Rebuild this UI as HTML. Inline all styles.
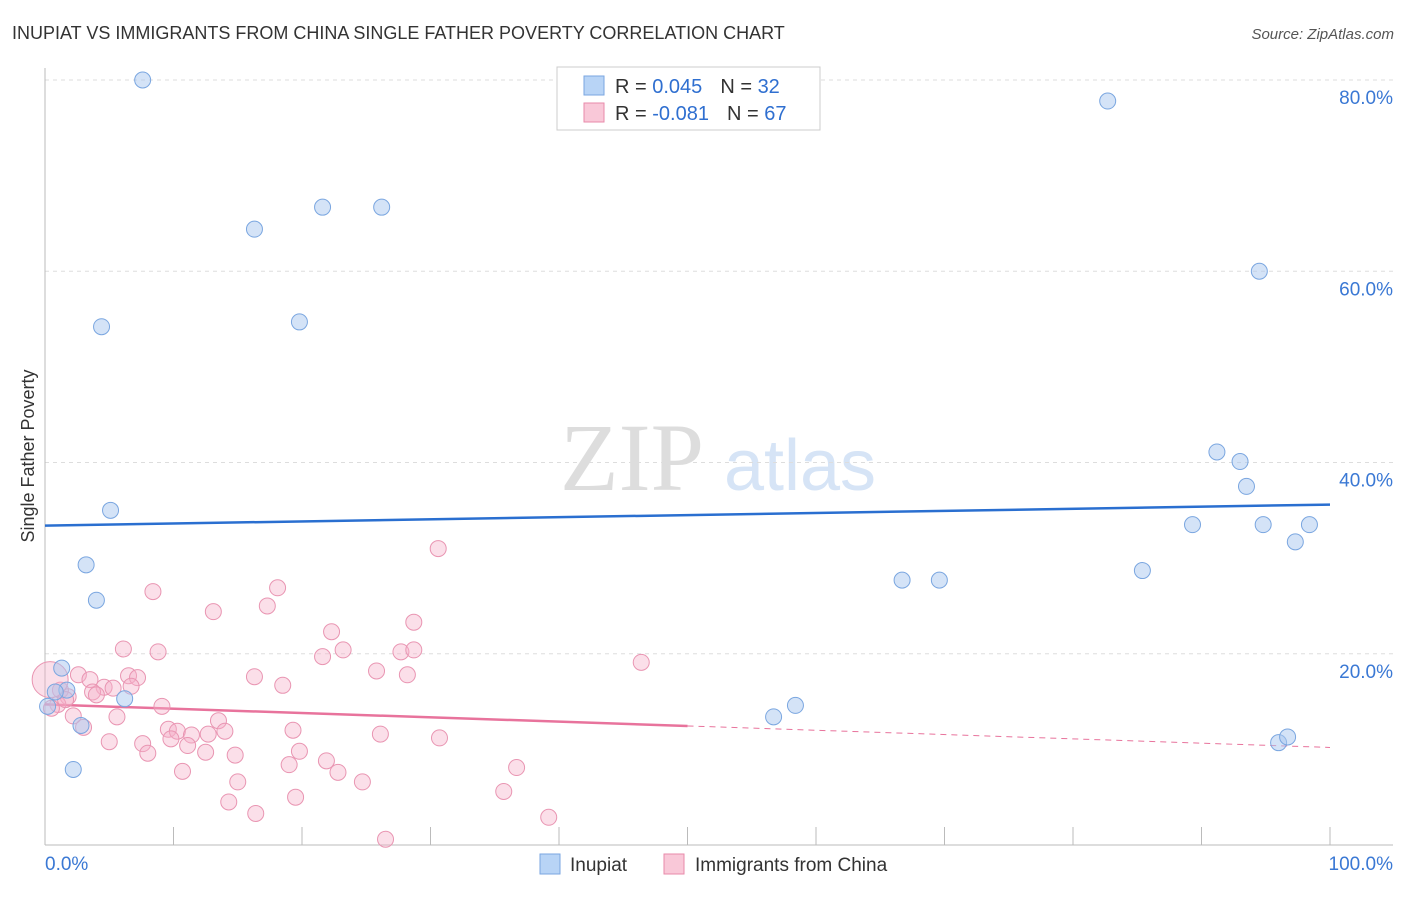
<!DOCTYPE html>
<html><head><meta charset="utf-8"><style>
body{margin:0;background:#fff;font-family:"Liberation Sans",sans-serif}
svg text{font-family:"Liberation Sans",sans-serif}
</style></head><body>
<svg id="chart" width="1406" height="892">
<text x="12" y="39" font-size="18" fill="#333">INUPIAT VS IMMIGRANTS FROM CHINA SINGLE FATHER POVERTY CORRELATION CHART</text>
<text x="1394" y="39" font-size="15" fill="#555" font-style="italic" text-anchor="end">Source: ZipAtlas.com</text>
<text x="34" y="456" font-size="18" fill="#333" text-anchor="middle" transform="rotate(-90 34 456)">Single Father Poverty</text>
<text x="632" y="490" font-size="96" fill="#ddd" font-family="Liberation Serif" text-anchor="middle" style="font-family:'Liberation Serif',serif">ZIP</text>
<text x="800" y="490" font-size="72" fill="#d6e4f6" text-anchor="middle">atlas</text>
<g id="grid"></g><g id="axes"></g><g id="trends"></g><g id="pts"></g>
<g>
<rect x="557" y="67" width="263" height="63" fill="#fff" stroke="#ccc"/>
<rect x="584" y="76" width="20" height="19" fill="#b8d4f6" stroke="#7aa6e0"/>
<rect x="584" y="103" width="20" height="19" fill="#f9c8d8" stroke="#e88aaa"/>
<text x="615" y="93" font-size="20" fill="#333">R = <tspan fill="#2f6fd0"> 0.045</tspan><tspan dx="18">N = </tspan><tspan fill="#2f6fd0">32</tspan></text>
<text x="615" y="120" font-size="20" fill="#333">R = <tspan fill="#2f6fd0">-0.081</tspan><tspan dx="18">N = </tspan><tspan fill="#2f6fd0">67</tspan></text>
</g>
<g>
<rect x="540" y="854" width="20" height="20" fill="#b8d4f6" stroke="#7aa6e0"/>
<text x="570" y="871" font-size="19" fill="#333">Inupiat</text>
<rect x="664" y="854" width="20" height="20" fill="#f9c8d8" stroke="#e88aaa"/>
<text x="695" y="871" font-size="19" fill="#333">Immigrants from China</text>
</g>
</svg>
<script>
const yTicks=[20,40,60,80];
const yTickLabels=["20.0%","40.0%","60.0%","80.0%"];
const xTicks=[0,10,20,30,40,50,60,70,80,90,100];
const blueX=[7.6,82.7,21.6,26.2,16.3,94.5,4.4,19.8,91.2,93.0,93.5,5.1,89.3,94.8,98.4,97.3,3.2,85.4,66.7,69.6,4.0,1.3,1.7,0.8,6.2,0.2,58.4,56.7,2.8,96.0,96.7,2.2];
const blueY=[80.0,77.8,66.7,66.7,64.4,60.0,54.2,54.7,41.1,40.1,37.5,35.0,33.5,33.5,33.5,31.7,29.3,28.7,27.7,27.7,25.6,18.5,16.2,16.0,15.3,14.5,14.6,13.4,12.5,10.7,11.3,7.9];
const pinkX=[30.6,18.1,8.4,17.3,13.1,28.7,22.3,23.2,6.1,8.8,27.7,28.7,46.4,21.6,25.8,2.6,28.2,6.5,7.2,16.3,3.5,18.5,4.6,6.7,5.3,3.7,4.0,1.8,1.0,9.1,0.5,2.2,5.6,13.5,3.0,9.6,10.3,19.3,11.4,12.7,14.0,9.8,26.1,30.7,5.0,7.6,11.1,12.5,19.8,8.0,14.8,21.9,19.0,22.8,10.7,36.7,15.0,24.7,19.5,35.7,14.3,16.4,39.2,26.5,1.2,1.6,0.4];
const pinkY=[31.0,26.9,26.5,25.0,24.4,23.3,22.3,20.4,20.5,20.2,20.2,20.4,19.1,19.7,18.2,17.8,17.8,17.7,17.5,17.6,17.3,16.7,16.5,16.6,16.4,16.0,15.7,15.5,14.7,14.5,14.3,13.5,13.4,13.0,12.3,12.1,11.9,12.0,11.5,11.6,11.9,11.1,11.6,11.2,10.8,10.6,10.4,9.7,9.8,9.6,9.4,8.8,8.4,7.6,7.7,8.1,6.6,6.6,5.0,5.6,4.5,3.3,2.9,0.6,16.2,15.2,17.3];
const blueTrend=[33.4,35.6];
const pinkTrend=[14.7,10.2];
const pinkSolidEnd=50;
const NS="http://www.w3.org/2000/svg";
const X=v=>45+v*12.85, Y=v=>845-v*9.5625;
function mk(p,t,a){const e=document.createElementNS(NS,t);for(const k in a)e.setAttribute(k,a[k]);p.appendChild(e);return e;}
const grid=document.getElementById('grid'),axes=document.getElementById('axes'),tr=document.getElementById('trends'),pts=document.getElementById('pts');
yTicks.forEach((t,i)=>{
 const l=mk(grid,'line',{x1:45,x2:1393,y1:Y(t),y2:Y(t),stroke:'#ddd','stroke-dasharray':'4,4'});
 
 
 const tx=mk(grid,'text',{x:1393,y:Y(t)+24,'font-size':19,fill:'#3a78d4','text-anchor':'end'});
 tx.textContent=yTickLabels[i];
 
 
});
mk(axes,'line',{x1:45,x2:45,y1:68,y2:845,stroke:'#bbb'});
mk(axes,'line',{x1:45,x2:1393,y1:845,y2:845,stroke:'#bbb'});
xTicks.forEach(t=>{
 const l=mk(axes,'line',{x1:X(t),x2:X(t),y1:827,y2:845,stroke:'#bbb'});
 
 
});
let a=mk(axes,'text',{x:45,y:870,'font-size':19,fill:'#3a78d4'});a.textContent='0.0%';


a=mk(axes,'text',{x:1393,y:870,'font-size':19,fill:'#3a78d4','text-anchor':'end'});a.textContent='100.0%';


let ln=mk(tr,'line',{x1:X(0),x2:X(100),y1:Y(blueTrend[0]),y2:Y(blueTrend[1]),stroke:'#2a6fd0','stroke-width':2.5});


const pm=pinkTrend[0]+(pinkTrend[1]-pinkTrend[0])*pinkSolidEnd/100;
ln=mk(tr,'line',{x1:X(0),x2:X(pinkSolidEnd),y1:Y(pinkTrend[0]),y2:Y(pm),stroke:'#e8739c','stroke-width':2.5});


ln=mk(tr,'line',{x1:X(pinkSolidEnd),x2:X(100),y1:Y(pm),y2:Y(pinkTrend[1]),stroke:'#e8739c','stroke-width':1,'stroke-dasharray':'6,5'});


pinkX.forEach((x,i)=>{
 const c=mk(pts,'circle',{cx:X(x),cy:Y(pinkY[i]),r:i==pinkX.length-1?18:8,fill:'rgba(246,176,200,0.4)',stroke:'#e995b2','stroke-width':1});
 
 
});
blueX.forEach((x,i)=>{
 const c=mk(pts,'circle',{cx:X(x),cy:Y(blueY[i]),r:8,fill:'rgba(170,200,240,0.5)',stroke:'#7aa6e0','stroke-width':1});
 
 
});
</script>
</body></html>
